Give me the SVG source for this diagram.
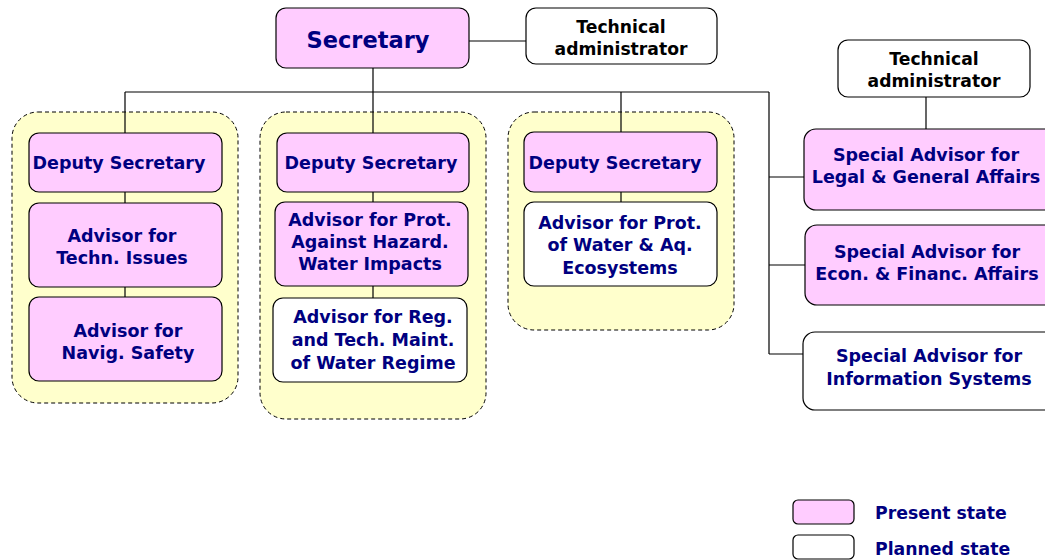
<svg xmlns="http://www.w3.org/2000/svg" width="1045" height="560" viewBox="0 0 1045 560">
<style>
.grp{fill:#FFFFCC;stroke:#000;stroke-width:1;stroke-dasharray:4 3}
.p{fill:#FFCCFF;stroke:#000;stroke-width:1.2}
.w{fill:#FFFFFF;stroke:#000;stroke-width:1.2}
.t{font-family:"DejaVu Sans",Verdana,sans-serif;font-weight:bold;font-size:17.5px;fill:#000080;text-anchor:middle}
.k{font-family:"DejaVu Sans",Verdana,sans-serif;font-weight:bold;font-size:17.2px;fill:#000;text-anchor:middle}
.c{fill:none;stroke:#000;stroke-width:1.2}
</style>
<rect width="1045" height="560" fill="#fff"/>
<g id="groups">
<rect class="grp" x="12" y="112" width="226" height="291" rx="26"/>
<rect class="grp" x="260" y="112" width="226" height="307" rx="26"/>
<rect class="grp" x="508" y="112" width="226" height="218" rx="26"/>
</g>
<g id="connectors">
<path class="c" d="M469,41H526"/>
<path class="c" d="M373,68V92M125,92H769M125,92V133M373,92V133M621,92V132M769,92V354"/>
<path class="c" d="M769,177H804M769,265H805M769,354H803"/>
<path class="c" d="M926,97V129"/>
<path class="c" d="M125,192V203M125,287V297"/>
<path class="c" d="M373,192V202M373,286V298"/>
<path class="c" d="M621,192V202"/>
</g>
<g id="secretary">
<rect class="p" x="276" y="8" width="193" height="60" rx="10"/>
<text class="t" x="368" y="48" style="font-size:22.5px">Secretary</text>
</g>
<g id="tech-admin-1">
<rect class="w" x="526" y="8" width="191" height="56" rx="10"/>
<text class="k" x="621" y="33">Technical</text>
<text class="k" x="621" y="55">administrator</text>
</g>
<g id="deputy-1">
<rect class="p" x="29" y="133" width="193" height="59" rx="10"/>
<text class="t" x="119" y="169">Deputy Secretary</text>
</g>
<g id="advisor-techn">
<rect class="p" x="29" y="203" width="193" height="84" rx="10"/>
<text class="t" x="122" y="242">Advisor for</text>
<text class="t" x="122" y="264">Techn. Issues</text>
</g>
<g id="advisor-navig">
<rect class="p" x="29" y="297" width="193" height="84" rx="10"/>
<text class="t" x="128" y="337">Advisor for</text>
<text class="t" x="128" y="359">Navig. Safety</text>
</g>
<g id="deputy-2">
<rect class="p" x="277" y="133" width="192" height="59" rx="10"/>
<text class="t" x="371" y="169">Deputy Secretary</text>
</g>
<g id="advisor-hazard">
<rect class="p" x="275" y="202" width="193" height="84" rx="10"/>
<text class="t" x="370" y="226">Advisor for Prot.</text>
<text class="t" x="370" y="248">Against Hazard.</text>
<text class="t" x="370" y="270">Water Impacts</text>
</g>
<g id="advisor-regime">
<rect class="w" x="273" y="298" width="194" height="84" rx="10"/>
<text class="t" x="373" y="323">Advisor for Reg.</text>
<text class="t" x="373" y="346">and Tech. Maint.</text>
<text class="t" x="373" y="369">of Water Regime</text>
</g>
<g id="deputy-3">
<rect class="p" x="524" y="132" width="193" height="60" rx="10"/>
<text class="t" x="615" y="169">Deputy Secretary</text>
</g>
<g id="advisor-ecosystems">
<rect class="w" x="524" y="202" width="193" height="84" rx="10"/>
<text class="t" x="620" y="229">Advisor for Prot.</text>
<text class="t" x="620" y="251">of Water &amp; Aq.</text>
<text class="t" x="620" y="274">Ecosystems</text>
</g>
<g id="tech-admin-2">
<rect class="w" x="838" y="40" width="192" height="57" rx="10"/>
<text class="k" x="934" y="65">Technical</text>
<text class="k" x="934" y="87">administrator</text>
</g>
<g id="special-legal">
<rect class="p" x="804" y="129" width="260" height="81" rx="12"/>
<text class="t" x="926" y="161">Special Advisor for</text>
<text class="t" x="926" y="183">Legal &amp; General Affairs</text>
</g>
<g id="special-econ">
<rect class="p" x="805" y="225" width="260" height="80" rx="12"/>
<text class="t" x="927" y="258">Special Advisor for</text>
<text class="t" x="927" y="280">Econ. &amp; Financ. Affairs</text>
</g>
<g id="special-info">
<rect class="w" x="803" y="332" width="260" height="78" rx="12"/>
<text class="t" x="929" y="362">Special Advisor for</text>
<text class="t" x="929" y="385">Information Systems</text>
</g>
<g id="legend">
<rect class="p" x="793" y="500" width="61" height="24" rx="5"/>
<text class="t" x="875" y="519" style="text-anchor:start;font-size:17.3px">Present state</text>
<rect class="w" x="793" y="535" width="61" height="24" rx="5"/>
<text class="t" x="875" y="555" style="text-anchor:start;font-size:17.3px">Planned state</text>
</g>
</svg>
